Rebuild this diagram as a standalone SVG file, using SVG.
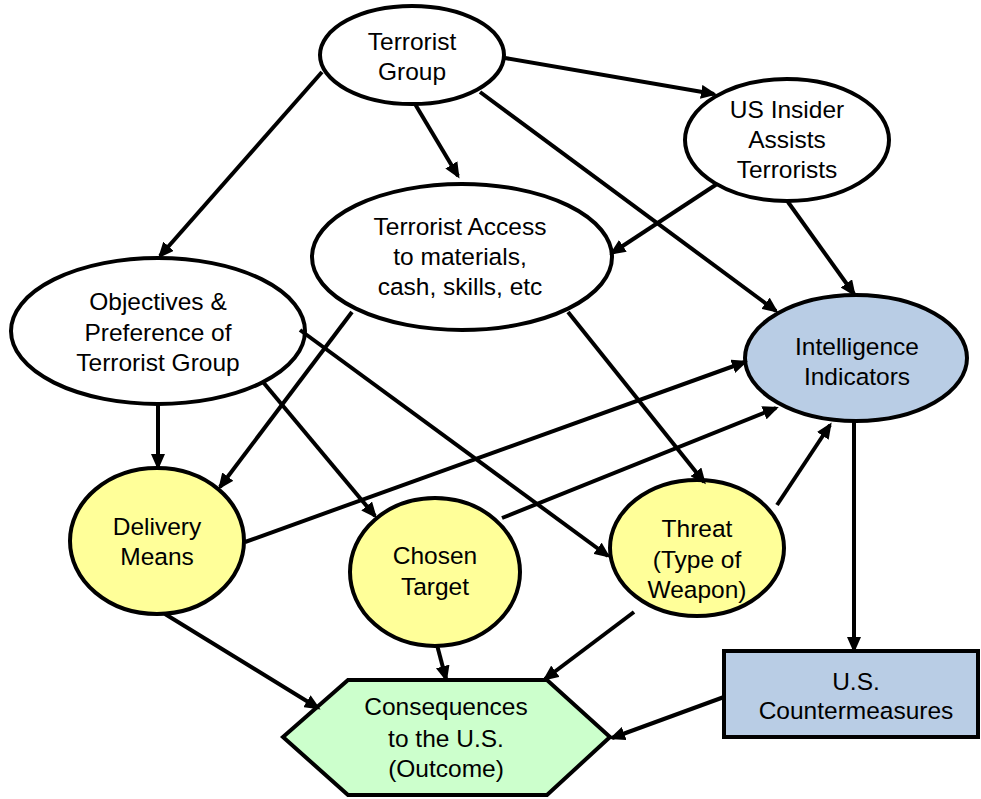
<svg xmlns="http://www.w3.org/2000/svg" width="981" height="799" viewBox="0 0 981 799">
<defs>
<style>
.n{stroke:#000;stroke-width:4}
.w{fill:#fff}
.y{fill:#ffff99}
.b{fill:#b9cde5}
.g{fill:#ccffcc}
text{font-family:"Liberation Sans",Arial,sans-serif;font-size:24.5px;fill:#000;text-anchor:middle}
.e{stroke:#000;stroke-width:4;fill:none;marker-end:url(#ah)}
</style>
<marker id="ah" markerUnits="userSpaceOnUse" markerWidth="16" markerHeight="14" refX="13" refY="7" orient="auto">
<path d="M0,0 L16,7 L0,14 z" fill="#000"/>
</marker>
</defs>
<rect width="981" height="799" fill="#fff"/>
<g id="terrorist-group"><ellipse class="n w" cx="412" cy="55" rx="92" ry="49"/><text x="412" y="50">Terrorist</text><text x="412" y="80">Group</text></g>
<g id="us-insider"><ellipse class="n w" cx="787" cy="140" rx="102" ry="61"/><text x="787" y="118">US Insider</text><text x="787" y="148">Assists</text><text x="787" y="178">Terrorists</text></g>
<g id="terrorist-access"><ellipse class="n w" cx="462" cy="257" rx="150" ry="73"/><text x="460" y="235">Terrorist Access</text><text x="460" y="265">to materials,</text><text x="460" y="295">cash, skills, etc</text></g>
<g id="objectives"><ellipse class="n w" cx="158" cy="331" rx="147" ry="73"/><text x="158" y="310">Objectives &amp;</text><text x="158" y="341">Preference of</text><text x="158" y="371">Terrorist Group</text></g>
<g id="intelligence"><ellipse class="n b" cx="856" cy="358" rx="111" ry="63"/><text x="857" y="355">Intelligence</text><text x="857" y="385">Indicators</text></g>
<g id="delivery"><ellipse class="n y" cx="157" cy="541" rx="87" ry="73"/><text x="157" y="535">Delivery</text><text x="157" y="565">Means</text></g>
<g id="target"><ellipse class="n y" cx="435" cy="572" rx="85" ry="74"/><text x="435" y="564">Chosen</text><text x="435" y="595">Target</text></g>
<g id="threat"><ellipse class="n y" cx="697" cy="548" rx="87" ry="68"/><text x="697" y="537">Threat</text><text x="697" y="568">(Type of</text><text x="697" y="598">Weapon)</text></g>
<g id="consequences"><polygon class="n g" points="348,680 547,680 610,737 547,795 348,795 283,737"/><text x="446" y="715">Consequences</text><text x="446" y="747">to the U.S.</text><text x="446" y="777">(Outcome)</text></g>
<g id="countermeasures"><rect class="n b" x="724" y="651" width="254" height="86"/><text x="856" y="690">U.S.</text><text x="856" y="719">Countermeasures</text></g>
<g id="connectors">
<path class="e" d="M322,72 L160,256"/>
<path class="e" d="M415,104 L458,176"/>
<path class="e" d="M505,58 L714,94"/>
<path class="e" d="M480,92 L776,311"/>
<path class="e" d="M717,184 L612,253"/>
<path class="e" d="M788,202 L854,294"/>
<path class="e" d="M352,312 L220,487"/>
<path class="e" d="M568,312 L704,482"/>
<path class="e" d="M158,404 L158,467"/>
<path class="e" d="M263,382 L375,516"/>
<path class="e" d="M300,330 L608,556"/>
<path class="e" d="M245,542 L745,362"/>
<path class="e" d="M502,518 L776,408"/>
<path class="e" d="M777,505 L830,425"/>
<path class="e" d="M854,421 L854,650"/>
<path class="e" d="M165,614 L318,708"/>
<path class="e" d="M437,645 L446,679"/>
<path class="e" d="M634,612 L545,679"/>
<path class="e" d="M724,697 L612,738"/>
</g>
</svg>
